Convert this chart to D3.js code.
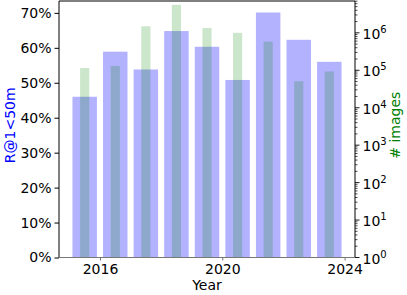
<!DOCTYPE html>
<html>
<head>
<meta charset="utf-8">
<script src="https://cdn.jsdelivr.net/npm/d3@7"></script>
<style>
  body { margin: 0; background: #fff; }
  svg { display: block; font-family: "DejaVu Sans", sans-serif; }
</style>
</head>
<body>
<svg width="407" height="295"></svg>
<script>
const width = 407;
const height = 295;

// data
const years = [2015.5, 2016.5, 2017.5, 2018.5, 2019.5, 2020.5, 2021.5, 2022.5, 2023.5];
const recall = [46.0, 58.9, 53.8, 64.8, 60.3, 50.8, 70.1, 62.3, 56.0];
const images = [1.15e5, 1.3e5, 1.5e6, 5.6e6, 1.35e6, 1.0e6, 5.8e5, 5.1e4, 9.3e4];
const xTicks = [2016, 2020, 2024];
const leftTicks = [0, 10, 20, 30, 40, 50, 60, 70];
const rightTicks = [0, 1, 2, 3, 4, 5, 6];

const plotLeft = 59, plotRight = 355, plotTop = 1, plotBottom = 257.5;

const svg = d3.select("svg");

const x = d3.scaleLinear().domain([2014.66, 2024.34]).range([plotLeft, plotRight]);
const y = d3.scaleLinear().domain([0, 73.4]).range([plotBottom, plotTop]);
const y2 = d3.scaleLog().domain([1, Math.pow(10, 6.85)]).range([plotBottom, plotTop]);

// blue bars (left axis)
svg.append("g")
  .selectAll("rect")
  .data(years)
  .join("rect")
  .attr("x", d => x(d - 0.4))
  .attr("width", d => x(d + 0.4) - x(d - 0.4))
  .attr("y", (d, i) => y(recall[i]))
  .attr("height", (d, i) => y(0) - y(recall[i]))
  .attr("fill", "#0000ff")
  .attr("fill-opacity", 0.3);

// green bars (right axis, drawn on top)
svg.append("g")
  .selectAll("rect")
  .data(years)
  .join("rect")
  .attr("x", d => x(d - 0.15))
  .attr("width", d => x(d + 0.15) - x(d - 0.15))
  .attr("y", (d, i) => y2(images[i]))
  .attr("height", (d, i) => y2(1) - y2(images[i]))
  .attr("fill", "#008000")
  .attr("fill-opacity", 0.2);

// left axis
const gl = svg.append("g")
  .attr("transform", `translate(${plotLeft},0)`)
  .call(d3.axisLeft(y).tickValues(leftTicks).tickFormat(d => d + "%").tickSize(4.5).tickPadding(3).tickSizeOuter(0));
gl.select(".domain").remove();
gl.selectAll("text").attr("font-size", 14).attr("fill", "#000").attr("font-family", "DejaVu Sans");

// right axis, major ticks with superscripts
const gr = svg.append("g").attr("transform", `translate(${plotRight},0)`);
const minor = [];
rightTicks.forEach(e => {
  for (let k = 2; k <= 9; k++) {
    const v = k * Math.pow(10, e);
    if (v <= y2.domain()[1]) minor.push(v);
  }
});
gr.selectAll("line.minor")
  .data(minor)
  .join("line")
  .attr("class", "minor")
  .attr("x1", 0).attr("x2", 2.5)
  .attr("y1", d => y2(d)).attr("y2", d => y2(d))
  .attr("stroke", "#000").attr("stroke-width", 0.7);
gr.selectAll("line.major")
  .data(rightTicks)
  .join("line")
  .attr("class", "major")
  .attr("x1", 0).attr("x2", 4.5)
  .attr("y1", d => y2(Math.pow(10, d))).attr("y2", d => y2(Math.pow(10, d)))
  .attr("stroke", "#000").attr("stroke-width", 0.9);
const rl = gr.selectAll("text.tl")
  .data(rightTicks)
  .join("text")
  .attr("class", "tl")
  .attr("x", 7.5)
  .attr("y", d => y2(Math.pow(10, d)) + 6)
  .attr("font-size", 14);
rl.append("tspan").text("10");
rl.append("tspan").attr("dy", -6).attr("font-size", 10).text(d => d);

// x axis
const gx = svg.append("g")
  .attr("transform", `translate(0,${plotBottom})`)
  .call(d3.axisBottom(x).tickValues(xTicks).tickFormat(d3.format("d")).tickSize(3).tickPadding(4).tickSizeOuter(0));
gx.select(".domain").remove();
gx.selectAll("line").attr("stroke", "#777");
gx.selectAll("text").attr("font-size", 14).attr("fill", "#000").attr("font-family", "DejaVu Sans");

// frame
svg.append("line").attr("x1", plotLeft).attr("x2", plotRight).attr("y1", plotTop).attr("y2", plotTop).attr("stroke", "#000");
svg.append("line").attr("x1", plotLeft).attr("x2", plotLeft).attr("y1", plotTop).attr("y2", plotBottom).attr("stroke", "#000");
svg.append("line").attr("x1", plotRight).attr("x2", plotRight).attr("y1", plotTop).attr("y2", plotBottom).attr("stroke", "#000");
svg.append("line").attr("x1", plotLeft).attr("x2", plotRight).attr("y1", plotBottom).attr("y2", plotBottom).attr("stroke", "#777").attr("stroke-width", 1.2);

// labels
svg.append("text")
  .attr("x", (plotLeft + plotRight) / 2)
  .attr("y", 290)
  .attr("text-anchor", "middle")
  .attr("font-size", 14)
  .text("Year");

svg.append("text")
  .attr("transform", `translate(15,${(plotTop + plotBottom) / 2 - 4}) rotate(-90)`)
  .attr("text-anchor", "middle")
  .attr("font-size", 14)
  .attr("fill", "#0000ff")
  .text("R@1<50m");

svg.append("text")
  .attr("transform", `translate(400,${(plotTop + plotBottom) / 2 - 4}) rotate(-90)`)
  .attr("text-anchor", "middle")
  .attr("font-size", 14)
  .attr("fill", "#008000")
  .text("# images");
</script>
</body>
</html>
